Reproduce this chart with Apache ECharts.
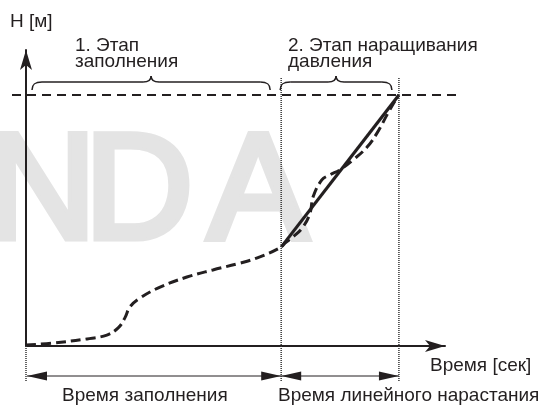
<!DOCTYPE html>
<html>
<head>
<meta charset="utf-8">
<script src="https://cdn.jsdelivr.net/npm/echarts@6/dist/echarts.min.js"></script>
<style>
  html, body { margin: 0; padding: 0; background: #ffffff; }
  #chart { width: 543px; height: 408px; }
</style>
</head>
<body>
<div id="chart"></div>
<script>
// Head over time while the pipe system fills, then while pressure is ramped up
const curveT = [0, 6.4, 14.6, 19.3, 22.0, 23.6, 24.8, 27.2, 32.0, 38.4, 44.6, 51.1, 55.8, 60.9,
                61.8, 63.7, 66.1, 67.8, 68.5, 70.6, 72.5, 74.9, 78.0, 81.4, 83.8, 86.4, 88.5, 89.0];
const curveH = [0.3, 1.0, 2.4, 3.7, 6.1, 9.5, 13.2, 16.2, 19.9, 23.3, 25.7, 28.0, 30.1, 33.4,
                34.8, 36.8, 40.2, 44.9, 50.3, 56.1, 57.8, 59.5, 62.8, 67.2, 72.0, 78.7, 83.8, 84.8];

// Linear pressure ramp (solid line)
const rampT = [60.9, 89.0];
const rampH = [33.4, 84.8];

// Target head (horizontal dashed line) and the phase boundaries on the time axis
const setpointH = 84.8;
const phaseBounds = [0, 60.9, 89.0];

const axisNames = ['H [м]', 'Время [сек]'];
const phaseTitles = [['1. Этап', 'заполнения'], ['2. Этап наращивания', 'давления']];
const durationLabels = ['Время заполнения', 'Время линейного нарастания'];
const watermarkLetters = ['N', 'D', 'A'];

const INK = '#231f20';
const FONT = '19px "Liberation Sans", Arial, sans-serif';

const chart = echarts.init(document.getElementById('chart'), null, { renderer: 'canvas' });

const axisCommon = {
  type: 'value',
  min: 0,
  max: 100,
  axisLine: {
    show: true,
    symbol: ['none', 'arrow'],
    symbolSize: [9, 20],
    lineStyle: { color: INK, width: 2 }
  },
  axisTick: { show: false },
  axisLabel: { show: false },
  splitLine: { show: false }
};

chart.setOption({
  animation: false,
  backgroundColor: '#ffffff',
  grid: { left: 26, right: 98, top: 50, bottom: 62 },
  xAxis: Object.assign({}, axisCommon),
  yAxis: Object.assign({}, axisCommon),
  series: [
    {
      name: 'curve',
      type: 'line',
      data: curveT.map((t, i) => [t, curveH[i]]),
      smooth: 0.4,
      symbol: 'none',
      lineStyle: { color: INK, width: 3, type: [10, 5] },
      z: 4
    },
    {
      name: 'ramp',
      type: 'line',
      data: rampT.map((t, i) => [t, rampH[i]]),
      symbol: 'none',
      lineStyle: { color: INK, width: 3.2, type: 'solid' },
      z: 5
    }
  ]
});

// Annotation layer placed from the axis scales
const px = (t, h) => chart.convertToPixel({ gridIndex: 0 }, [t, h]);
const xa = px(phaseBounds[0], 0)[0];
const xb = px(phaseBounds[1], 0)[0];
const xc = px(phaseBounds[2], 0)[0];
const yBase = px(0, 0)[1];
const ySet = px(0, setpointH)[1];

const gfx = [];

// faint watermark letters
const wmX = [42, 139, 258];
watermarkLetters.forEach((ch, i) => {
  gfx.push({
    type: 'text', z: -10, silent: true,
    style: {
      text: ch, x: wmX[i], y: 197,
      font: '150px "Liberation Sans", Arial, sans-serif',
      fill: '#e4e4e4', stroke: '#e4e4e4', lineWidth: 7, lineJoin: 'miter',
      textAlign: 'center', textVerticalAlign: 'middle'
    }
  });
});

// target head line
gfx.push({
  type: 'line', z: 10, silent: true,
  shape: { x1: xa - 14, y1: ySet, x2: 458, y2: ySet },
  style: { stroke: INK, lineWidth: 2, lineDash: [9, 6] }
});

// dotted phase boundaries
[[xa, yBase], [xb, 78], [xc, 78]].forEach(([x, yTop]) => {
  gfx.push({
    type: 'line', z: 9, silent: true,
    shape: { x1: x, y1: yTop, x2: x, y2: 382 },
    style: { stroke: '#333', lineWidth: 1.5, lineDash: [1, 1] }
  });
});

// curly braces over each phase, built from curve and line pieces
function brace(a, b) {
  const m = (a + b) / 2;
  const st = { fill: null, stroke: INK, lineWidth: 1.5 };
  const bez = (x1, y1, c1x, c1y, c2x, c2y, x2, y2) => ({
    type: 'bezierCurve', z: 10, silent: true,
    shape: { x1, y1, cpx1: c1x, cpy1: c1y, cpx2: c2x, cpy2: c2y, x2, y2 }, style: st
  });
  const seg = (x1, x2) => ({
    type: 'line', z: 10, silent: true, shape: { x1, y1: 82, x2, y2: 82 }, style: st
  });
  gfx.push(bez(a, 90, a, 84, a + 3, 82, a + 10, 82));
  gfx.push(seg(a + 10, m - 8));
  gfx.push(bez(m - 8, 82, m - 3, 82, m, 80, m, 76));
  gfx.push(bez(m, 76, m, 80, m + 3, 82, m + 8, 82));
  gfx.push(seg(m + 8, b - 10));
  gfx.push(bez(b - 10, 82, b - 3, 82, b, 84, b, 90));
}
brace(xa + 6, xb - 11);
brace(xb - 1, xc - 7);

// duration dimension arrows
const yDim = 376;
function arrowHead(xTip, dir) {
  return {
    type: 'polygon', z: 11, silent: true,
    shape: { points: [[xTip, yDim], [xTip + dir * 20, yDim - 4.5], [xTip + dir * 20, yDim + 4.5]] },
    style: { fill: INK }
  };
}
[[xa + 1, xb], [xb, xc]].forEach(([a, b]) => {
  gfx.push({
    type: 'line', z: 10, silent: true,
    shape: { x1: a, y1: yDim, x2: b, y2: yDim },
    style: { stroke: INK, lineWidth: 1 }
  });
  gfx.push(arrowHead(a, 1));
  gfx.push(arrowHead(b, -1));
});

// text labels
function label(text, x, y) {
  gfx.push({
    type: 'text', z: 12, silent: true,
    style: { text, x, y, font: FONT, fill: INK, textAlign: 'left', textVerticalAlign: 'middle' }
  });
}
label(axisNames[0], 10, 21.5);
label(axisNames[1], 430, 365.5);
label(phaseTitles[0][0], 75, 45.5);
label(phaseTitles[0][1], 75, 61.5);
label(phaseTitles[1][0], 288, 45.5);
label(phaseTitles[1][1], 288, 61.5);
label(durationLabels[0], 62, 395.5);
label(durationLabels[1], 278, 395.5);

chart.setOption({ graphic: { elements: gfx } });
</script>
</body>
</html>
